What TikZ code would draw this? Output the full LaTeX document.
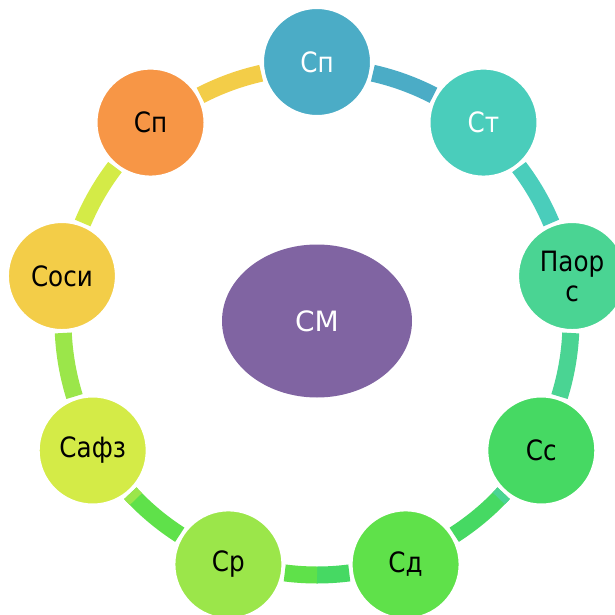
\documentclass[tikz,border=0pt]{standalone}
\usepackage{fontspec}
\setmainfont{DejaVu Sans}[FakeStretch=0.88]
\newfontfamily\widefont{DejaVu Sans}
\usetikzlibrary{shapes.geometric}

\definecolor{cblue}{HTML}{4BACC6}
\definecolor{cteal}{HTML}{4ACDBB}
\definecolor{cmint}{HTML}{4AD493}
\definecolor{cgreen}{HTML}{46D963}
\definecolor{clime}{HTML}{5FE14A}
\definecolor{clight}{HTML}{9BE64A}
\definecolor{cyelgreen}{HTML}{D4EB47}
\definecolor{cyellow}{HTML}{F3CD48}
\definecolor{corange}{HTML}{F79646}
\definecolor{cpurple}{HTML}{8064A2}

\tikzset{
  stage/.style={circle, minimum size=109pt, inner sep=0pt, draw=white, line width=3pt,
    font=\fontsize{28}{30}\selectfont, align=center},
  band/.style={line width=17pt}
}

\begin{document}
\begin{tikzpicture}[x=1pt, y=1pt]
\useasboundingbox (0,0) rectangle (615,614);
\coordinate (ring) at (317,293);

% Connecting bands (drawn first, circles cover them)
\draw[band, cblue] ([shift={(77.3:254)}]ring) arc[start angle=77.3, end angle=62.7, radius=254];
\draw[band, cteal] ([shift={(37.3:254)}]ring) arc[start angle=37.3, end angle=22.7, radius=254];
\draw[band, cmint] ([shift={(-2.7:254)}]ring) arc[start angle=-2.7, end angle=-17.3, radius=254];
\draw[band, cgreen] ([shift={(-42.7:254)}]ring) arc[start angle=-42.7, end angle=-57.3, radius=254];
\draw[band, cmint] ([shift={(-42.7:254)}]ring) arc[start angle=-42.7, end angle=-44.3, radius=254];
\draw[band, cgreen] ([shift={(-82.7:254)}]ring) arc[start angle=-82.7, end angle=-90, radius=254];
\draw[band, clime] ([shift={(-90:254)}]ring) arc[start angle=-90, end angle=-97.3, radius=254];
\draw[band, clime] ([shift={(-122.7:254)}]ring) arc[start angle=-122.7, end angle=-137.3, radius=254];
\draw[band, clight] ([shift={(-135.5:254)}]ring) arc[start angle=-135.5, end angle=-137.3, radius=254];
\draw[band, clight] ([shift={(-162.7:254)}]ring) arc[start angle=-162.7, end angle=-177.3, radius=254];
\draw[band, cyelgreen] ([shift={(157.3:254)}]ring) arc[start angle=157.3, end angle=142.7, radius=254];
\draw[band, cyellow] ([shift={(117.3:254)}]ring) arc[start angle=117.3, end angle=102.7, radius=254];

% Outer circles
\node[stage, fill=cblue, text=white] (sp1) at ([shift={(90:259)}]ring) {Сп};
\node[stage, fill=cteal, text=white] (st) at ([shift={(50:259)}]ring) {Ст};
\node[stage, fill=cmint] (paors) at ([shift={(10:259)}]ring) {Паор\\с};
\node[stage, fill=cgreen] (ss) at ([shift={(-30:259)}]ring) {Сс};
\node[stage, fill=clime] (sd) at ([shift={(-70:259)}]ring) {Сд};
\node[stage, fill=clight] (sr) at ([shift={(-110:259)}]ring) {Ср};
\node[stage, fill=cyelgreen] (safz) at ([shift={(-150:259)}]ring) {Сафз};
\node[stage, fill=cyellow] (sosi) at ([shift={(170:259)}]ring) {Соси};
\node[stage, fill=corange] (sp2) at ([shift={(130:259)}]ring) {Сп};

% Centre
\node[ellipse, fill=cpurple, text=white, minimum width=190pt, minimum height=153pt,
  inner sep=0pt, font=\widefont\fontsize{28}{30}\selectfont] (sm) at (317,293) {СМ};
\end{tikzpicture}
\end{document}
